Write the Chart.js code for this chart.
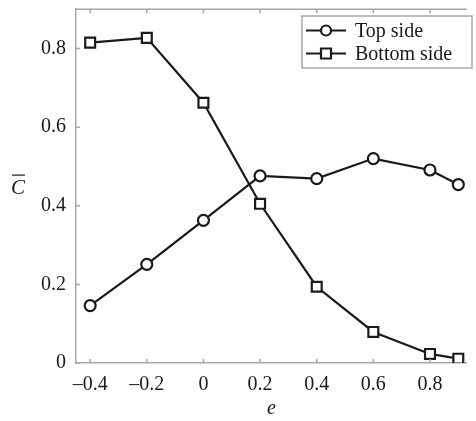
<!DOCTYPE html>
<html>
<head>
<meta charset="utf-8">
<script src="https://cdn.jsdelivr.net/npm/chart.js@4/dist/chart.umd.min.js"></script>
<style>
  body { margin: 0; background: #fff; }
  canvas { display: block; }
</style>
</head>
<body>
<canvas id="chart" width="476" height="421"></canvas>
<script>
// values
const eValues = [-0.4, -0.2, 0, 0.2, 0.4, 0.6, 0.8, 0.9];
const topSide = [0.146, 0.251, 0.363, 0.476, 0.469, 0.520, 0.491, 0.454];
const bottomSide = [0.815, 0.827, 0.662, 0.405, 0.194, 0.079, 0.023, 0.011];
const xTicks = [-0.4, -0.2, 0, 0.2, 0.4, 0.6, 0.8];
const yTicks = [0, 0.2, 0.4, 0.6, 0.8];

const serif = "'Liberation Serif', 'DejaVu Serif', serif";
const axisGrey = '#a8a8a8';
const ink = '#1a1a1a';

const fmt = v => v === 0 ? '0' : (v < 0 ? '\u2013' + Math.abs(v) : String(v));
const toPoints = arr => arr.map((y, i) => ({ x: eValues[i], y: y }));

// frame top line + inward tick marks + upright y title
const framePlugin = {
    id: 'frame',
    afterDraw(chart) {
        const ctx = chart.ctx;
        const a = chart.chartArea;
        const xs = chart.scales.x, ys = chart.scales.y;
        ctx.save();
        ctx.strokeStyle = axisGrey;
        ctx.lineWidth = 1.5;
        ctx.beginPath();
        ctx.moveTo(a.left, a.top);
        ctx.lineTo(a.right, a.top);
        xTicks.forEach(v => {
            let px = xs.getPixelForValue(v);
            ctx.moveTo(px, a.bottom); ctx.lineTo(px, a.bottom - 4);
            ctx.moveTo(px, a.top); ctx.lineTo(px, a.top + 4);
        });
        yTicks.forEach(v => {
            let py = ys.getPixelForValue(v);
            ctx.moveTo(a.left, py); ctx.lineTo(a.left + 4, py);
        });
        ctx.stroke();

        ctx.fillStyle = ink;
        ctx.font = 'italic 21px ' + serif;
        ctx.textAlign = 'center';
        ctx.textBaseline = 'middle';
        let cy = (a.top + a.bottom) / 2 + 2;
        ctx.fillText('C', 18, cy);
        ctx.strokeStyle = ink;
        ctx.lineWidth = 1.2;
        ctx.beginPath();
        ctx.moveTo(12, cy - 13);
        ctx.lineTo(25, cy - 13);
        ctx.stroke();
        ctx.restore();
    }
};

// boxed legend in the upper right corner
const legendPlugin = {
    id: 'boxLegend',
    afterDraw(chart) {
        const ctx = chart.ctx;
        const bx = 302, by = 16, bw = 170, bh = 52;
        ctx.save();
        ctx.fillStyle = '#fff';
        ctx.fillRect(bx, by, bw, bh);
        ctx.strokeStyle = axisGrey;
        ctx.lineWidth = 1.5;
        ctx.strokeRect(bx, by, bw, bh);
        chart.data.datasets.forEach((ds, i) => {
            let y = by + 14.5 + i * 23;
            ctx.strokeStyle = ds.borderColor;
            ctx.lineWidth = 2.2;
            ctx.beginPath();
            ctx.moveTo(306, y); ctx.lineTo(346, y);
            ctx.stroke();
            ctx.fillStyle = '#fff';
            ctx.beginPath();
            if (ds.pointStyle === 'circle') {
                ctx.arc(326, y, 5, 0, Math.PI * 2);
            } else {
                ctx.rect(321, y - 5, 10, 10);
            }
            ctx.fill();
            ctx.stroke();
            ctx.fillStyle = ink;
            ctx.font = '20px ' + serif;
            ctx.textAlign = 'left';
            ctx.textBaseline = 'middle';
            ctx.fillText(ds.label, 355, y + 1);
        });
        ctx.restore();
    }
};

new Chart(document.getElementById('chart'), {
    type: 'line',
    data: {
        datasets: [{
            label: 'Top side',
            data: toPoints(topSide),
            borderColor: ink,
            borderWidth: 2.2,
            pointStyle: 'circle',
            pointRadius: 5.5,
            pointBorderWidth: 2.2,
            pointBackgroundColor: '#fff',
            pointBorderColor: ink
        }, {
            label: 'Bottom side',
            data: toPoints(bottomSide),
            borderColor: ink,
            borderWidth: 2.2,
            pointStyle: 'rect',
            pointRadius: 7,
            pointBorderWidth: 2.2,
            pointBackgroundColor: '#fff',
            pointBorderColor: ink
        }]
    },
    options: {
        responsive: false,
        animation: false,
        layout: { padding: 0 },
        plugins: {
            legend: { display: false },
            tooltip: { enabled: false }
        },
        scales: {
            x: {
                type: 'linear',
                min: -0.45,
                max: 0.93,
                afterBuildTicks: s => { s.ticks = xTicks.map(v => ({ value: v })); },
                afterFit: s => { s.height = 58; s.paddingLeft = 0; s.paddingRight = 0; },
                grid: { drawOnChartArea: false, drawTicks: false },
                border: { color: axisGrey, width: 1.5 },
                ticks: {
                    padding: 10,
                    color: ink,
                    font: { family: serif, size: 20 },
                    maxRotation: 0,
                    callback: v => fmt(v)
                },
                title: {
                    display: true,
                    text: 'e',
                    color: ink,
                    font: { family: serif, size: 20, style: 'italic' },
                    padding: 0
                }
            },
            y: {
                min: 0,
                max: 0.9,
                afterBuildTicks: s => { s.ticks = yTicks.map(v => ({ value: v })); },
                afterFit: s => { s.width = 76; s.paddingTop = 0; s.paddingBottom = 0; },
                grid: { drawOnChartArea: false, drawTicks: false },
                border: { color: axisGrey, width: 1.5 },
                ticks: {
                    padding: 10,
                    color: ink,
                    font: { family: serif, size: 20 },
                    callback: v => fmt(v)
                }
            }
        }
    },
    plugins: [framePlugin, legendPlugin]
});
</script>
</body>
</html>
